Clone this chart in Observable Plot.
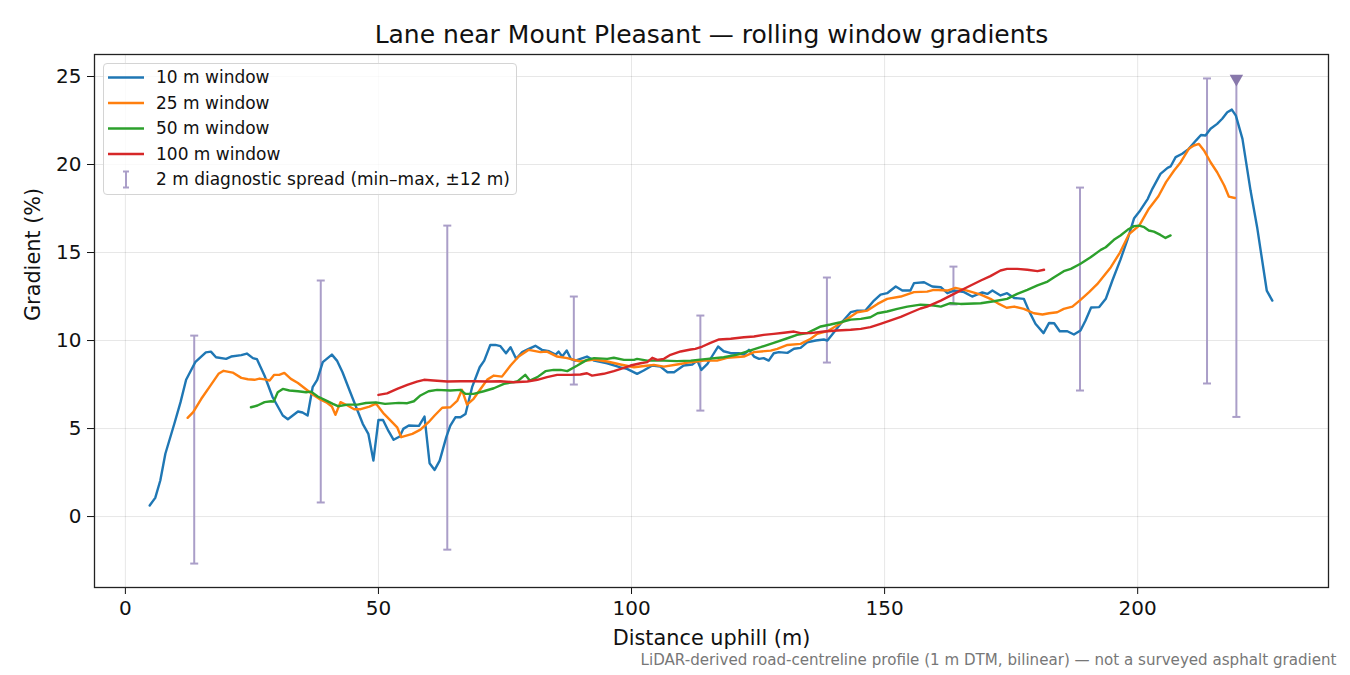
<!DOCTYPE html>
<html>
<head>
<meta charset="utf-8">
<script src="https://cdn.jsdelivr.net/npm/d3@7"></script>
<script src="https://cdn.jsdelivr.net/npm/@observablehq/plot@0.6"></script>
<style>
  html, body { margin: 0; padding: 0; background: #fff; }
  #wrap { position: relative; width: 1350px; height: 675px; font-family: "DejaVu Sans", sans-serif; }
  #legend { position: absolute; left: 103px; top: 63px; width: 414px; height: 132px; box-sizing: border-box;
    border: 1.3px solid #d4d4d4; border-radius: 4px; background: rgba(255,255,255,0.8); }
</style>
</head>
<body>
<div id="wrap"><div id="chart"></div><div id="legend"></div></div>
<script>
// ---- data ----
const titleText = "Lane near Mount Pleasant \u2014 rolling window gradients";
const xLabel = "Distance uphill (m)";
const yLabel = "Gradient (%)";
const footnote = "LiDAR-derived road-centreline profile (1 m DTM, bilinear) \u2014 not a surveyed asphalt gradient";
const xTicks = [0, 50, 100, 150, 200];
const yTicks = [0, 5, 10, 15, 20, 25];

const seriesLabels = ["10 m window", "25 m window", "50 m window", "100 m window"];
const seriesColors = ["#1f77b4", "#ff7f0e", "#2ca02c", "#d62728"];
const spreadLabel = "2 m diagnostic spread (min\u2013max, \u00b112 m)";

const win10 = [[4.8,0.63],[5.9,1.06],[6.9,2.05],[7.9,3.57],[9.7,5.3],[10.9,6.5],[12.0,7.77],[13.8,8.77],[15.9,9.33],[16.9,9.37],[17.9,9.05],[19.9,8.96],[20.9,9.09],[22.9,9.17],[24.0,9.26],[25.2,9.0],[26.0,8.94],[27.5,8.0],[29.1,6.78],[31.1,5.74],[32.1,5.53],[34.1,5.97],[35.0,5.91],[36.0,5.74],[37.0,7.35],[37.9,7.77],[39.0,8.77],[40.8,9.2],[41.8,8.86],[42.9,8.2],[44.3,7.16],[45.6,6.21],[46.9,5.27],[48.0,4.7],[49.0,3.18],[50.0,5.49],[50.9,5.49],[52.0,4.85],[53.0,4.36],[54.2,4.55],[54.9,4.98],[56.0,5.17],[58.0,5.15],[59.1,5.68],[60.1,3.03],[61.1,2.65],[62.1,3.18],[63.4,4.51],[64.2,5.17],[65.2,5.64],[66.2,5.64],[67.2,5.83],[68.5,7.35],[70.0,8.48],[70.9,8.86],[72.1,9.75],[73.1,9.75],[74.1,9.68],[75.2,9.28],[76.1,9.62],[77.2,8.96],[78.4,9.34],[79.7,9.53],[81.0,9.7],[82.3,9.47],[83.7,9.39],[85.0,9.2],[85.6,9.37],[86.3,9.09],[87.2,9.43],[88.0,8.96],[88.9,8.86],[91.2,9.09],[92.6,8.86],[95.2,8.71],[97.8,8.48],[99.1,8.39],[101.1,8.11],[102.4,8.3],[104.1,8.58],[105.7,8.52],[107.1,8.2],[108.4,8.2],[110.3,8.58],[112.0,8.64],[113.0,8.86],[113.8,8.33],[115.0,8.67],[116.0,9.15],[117.1,9.66],[118.2,9.39],[119.6,9.28],[121.2,9.28],[122.2,9.2],[123.2,9.47],[124.2,9.09],[125.2,8.96],[126.1,9.0],[127.1,8.86],[128.1,9.28],[129.1,9.34],[130.8,9.3],[132.1,9.53],[133.4,9.58],[134.7,9.9],[136.4,10.0],[138.0,10.06],[138.7,10.0],[140.0,10.47],[141.3,10.95],[143.3,11.61],[144.6,11.7],[146.2,11.7],[147.9,12.27],[149.2,12.61],[150.5,12.69],[152.2,13.07],[153.5,12.84],[155.1,12.84],[155.8,13.26],[157.8,13.31],[159.4,13.07],[161.1,13.03],[162.4,12.69],[163.7,12.84],[165.7,12.75],[167.3,12.5],[169.3,12.73],[170.3,12.65],[171.3,12.84],[172.9,12.56],[174.2,12.69],[175.6,12.42],[177.5,12.37],[178.5,11.7],[179.8,10.95],[181.4,10.42],[182.5,11.0],[183.5,10.98],[184.6,10.53],[186.1,10.53],[187.4,10.34],[188.7,10.57],[189.7,11.14],[190.8,11.88],[192.4,11.9],[193.7,12.37],[195.0,13.41],[196.6,14.6],[198.0,15.75],[199.3,16.95],[200.5,17.39],[202.0,18.05],[202.9,18.62],[204.5,19.47],[205.9,19.81],[206.5,19.89],[207.5,20.42],[208.8,20.61],[210.1,20.89],[211.5,21.36],[212.5,21.68],[213.4,21.65],[214.4,22.03],[215.7,22.31],[216.7,22.6],[217.7,22.97],[218.6,23.12],[219.4,22.78],[220.7,21.46],[222.3,18.52],[223.6,16.44],[225.5,12.84],[226.6,12.27]];

const win25 = [[12.3,5.61],[13.4,5.93],[15.0,6.69],[16.8,7.44],[18.4,8.11],[19.4,8.28],[21.2,8.18],[22.9,7.88],[24.2,7.8],[25.5,7.77],[26.5,7.84],[27.8,7.78],[28.5,7.73],[29.4,8.05],[30.4,8.05],[31.4,8.16],[32.7,7.82],[34.1,7.59],[36.0,7.16],[37.0,6.93],[38.3,6.69],[39.7,6.49],[40.8,6.25],[41.5,5.78],[42.5,6.5],[43.9,6.31],[45.2,6.1],[46.5,6.1],[48.2,6.25],[49.5,6.42],[51.1,5.83],[52.7,5.36],[53.7,5.07],[54.5,4.51],[56.7,4.7],[58.3,4.94],[59.9,5.36],[61.1,5.74],[62.6,6.18],[64.2,6.21],[65.6,6.59],[66.5,7.2],[67.5,6.36],[68.8,6.69],[70.2,7.26],[71.5,7.78],[72.8,8.01],[74.4,7.95],[76.1,8.58],[77.7,9.09],[79.7,9.47],[82.0,9.34],[83.3,9.37],[85.3,9.09],[87.3,9.0],[89.9,8.81],[92.6,8.92],[95.2,8.81],[97.8,8.64],[100.5,8.48],[102.5,8.55],[104.4,8.62],[106.4,8.52],[109.0,8.64],[111.7,8.77],[114.3,8.86],[116.9,8.86],[118.9,9.02],[122.2,9.09],[124.2,9.34],[127.5,9.43],[128.8,9.53],[130.8,9.75],[133.4,9.81],[135.4,10.1],[136.7,10.38],[138.7,10.53],[140.6,10.85],[142.6,11.23],[144.6,11.61],[146.6,11.7],[148.6,12.08],[150.5,12.37],[153.2,12.5],[155.8,12.75],[158.4,12.78],[159.7,12.88],[162.4,12.84],[164.0,12.99],[166.3,12.84],[169.0,12.61],[170.9,12.37],[172.6,12.08],[174.1,11.86],[175.6,11.93],[177.5,11.8],[179.5,11.55],[181.2,11.48],[182.5,11.55],[184.1,11.61],[185.4,11.8],[187.1,11.93],[188.7,12.31],[190.4,12.75],[192.0,13.2],[194.7,14.17],[196.5,15.0],[198.3,16.05],[200.3,16.53],[202.1,17.44],[204.1,18.2],[205.6,19.0],[207.2,19.66],[208.5,20.13],[210.1,20.89],[211.1,21.08],[212.1,21.17],[213.1,20.8],[214.4,20.13],[215.7,19.56],[217.1,18.81],[218.0,18.18],[219.2,18.1]];

const win50 = [[24.8,6.21],[26.1,6.31],[27.5,6.5],[28.8,6.55],[29.3,6.53],[30.1,7.06],[31.1,7.25],[32.4,7.16],[34.1,7.12],[35.7,7.06],[36.7,7.1],[38.0,6.82],[39.7,6.59],[41.0,6.4],[42.0,6.27],[43.9,6.36],[45.9,6.36],[47.5,6.45],[49.5,6.49],[51.3,6.4],[54.0,6.46],[55.7,6.44],[57.0,6.55],[58.3,6.88],[59.9,7.12],[61.6,7.2],[64.2,7.16],[66.2,7.2],[67.2,6.97],[68.8,6.97],[70.8,7.12],[72.8,7.29],[74.8,7.54],[77.4,7.67],[79.0,8.05],[79.9,7.73],[81.4,7.92],[83.0,8.26],[84.6,8.33],[86.0,8.33],[87.3,8.26],[89.3,8.58],[91.2,8.9],[92.6,9.0],[95.2,8.96],[96.5,9.02],[98.5,8.9],[100.5,8.9],[101.1,8.96],[103.1,8.86],[106.4,8.86],[109.0,8.83],[111.7,8.86],[115.0,8.96],[118.2,9.05],[120.9,9.2],[122.9,9.39],[125.5,9.62],[128.1,9.87],[130.8,10.13],[132.7,10.32],[134.7,10.42],[136.0,10.61],[137.4,10.8],[139.3,10.91],[141.3,11.04],[143.3,11.19],[145.3,11.23],[147.2,11.32],[148.6,11.55],[150.5,11.65],[152.5,11.8],[154.5,11.93],[157.1,12.04],[159.7,11.99],[161.1,11.93],[163.0,12.12],[165.0,12.08],[169.0,12.12],[171.6,12.23],[174.2,12.37],[176.2,12.65],[178.2,12.88],[180.2,13.13],[182.2,13.35],[183.5,13.6],[185.4,13.94],[186.8,14.07],[188.7,14.36],[190.7,14.73],[192.7,15.15],[193.7,15.3],[195.3,15.72],[196.6,15.97],[198.0,16.29],[199.3,16.5],[200.3,16.53],[201.3,16.44],[202.2,16.25],[203.2,16.19],[204.5,16.0],[205.5,15.83],[206.5,15.97]];

const win100 = [[50.0,6.91],[51.7,7.0],[53.7,7.25],[55.7,7.48],[57.6,7.67],[59.0,7.77],[60.9,7.73],[63.6,7.67],[66.2,7.69],[68.8,7.69],[71.5,7.67],[74.1,7.69],[76.7,7.63],[79.4,7.67],[81.4,7.77],[83.3,7.92],[85.3,8.05],[87.9,8.05],[89.9,8.07],[91.2,8.14],[92.2,8.01],[94.5,8.11],[96.5,8.26],[98.5,8.45],[99.8,8.58],[101.8,8.71],[103.1,8.77],[104.1,9.02],[105.1,8.9],[106.4,8.96],[107.7,9.19],[109.7,9.38],[111.7,9.49],[112.6,9.53],[114.0,9.66],[115.6,9.87],[117.3,10.06],[119.6,10.1],[122.2,10.19],[124.2,10.23],[126.1,10.32],[128.1,10.38],[130.1,10.44],[132.1,10.51],[133.4,10.42],[135.4,10.42],[138.0,10.51],[140.6,10.57],[143.3,10.61],[145.3,10.66],[147.2,10.76],[149.2,10.95],[151.2,11.14],[153.2,11.34],[155.1,11.58],[157.1,11.82],[158.4,11.93],[161.1,12.27],[163.7,12.65],[166.3,13.03],[169.0,13.41],[170.9,13.66],[172.9,13.98],[174.2,14.07],[176.2,14.07],[178.2,14.02],[180.2,13.94],[181.5,14.02]];

// 2 m diagnostic spread (min–max); last one runs off the top of the axis (marked with a triangle)
const spreadX   = [13.6, 38.6, 63.6, 88.6, 113.6, 138.6, 163.6, 188.6, 213.7, 219.5];
const spreadMin = [-2.67, 0.8, -1.88, 7.5, 6.02, 8.75, 12.05, 7.16, 7.56, 5.66];
const spreadMax = [10.28, 13.41, 16.53, 12.5, 11.42, 13.58, 14.2, 18.69, 24.89, 24.88];
const spreadClipped = [false, false, false, false, false, false, false, false, false, true];

// ---- build ----
const series = [win10, win25, win50, win100];
const spreads = spreadX.map((x, i) => ({x, lo: spreadMin[i], hi: spreadMax[i], clipped: spreadClipped[i]}));
const spreadColor = "#aa9ec8";
const markerColor = "#8878ab";

const capSymbol = { draw(ctx, size) { const r = Math.sqrt(size / Math.PI); ctx.moveTo(-r, 0); ctx.lineTo(r, 0); } };
const triDown = { draw(ctx, size) { const y = Math.sqrt(size / (Math.sqrt(3) * 3)); ctx.moveTo(0, 2 * y); ctx.lineTo(-Math.sqrt(3) * y, -y); ctx.lineTo(Math.sqrt(3) * y, -y); ctx.closePath(); } };

const marks = [
  Plot.frame({stroke: "#222", strokeWidth: 1.3}),
  Plot.ruleX(spreads, {x: "x", y1: "lo", y2: "hi", stroke: spreadColor, strokeWidth: 2}),
  Plot.dot(spreads, {x: "x", y: "lo", symbol: capSymbol, r: 4, fill: "none", stroke: spreadColor, strokeWidth: 2}),
  Plot.dot(spreads.filter(d => !d.clipped), {x: "x", y: "hi", symbol: capSymbol, r: 4, fill: "none", stroke: spreadColor, strokeWidth: 2}),
  ...series.map((s, i) => Plot.line(s, {x: d => d[0], y: d => d[1], stroke: seriesColors[i], strokeWidth: 2.4, strokeLinejoin: "round"})),
  Plot.dot(spreads.filter(d => d.clipped), {x: "x", y: "hi", symbol: triDown, r: 5, fill: markerColor, stroke: "none"}),
  Plot.text([titleText], {frameAnchor: "top", lineAnchor: "middle", dy: -20, fontSize: 25, fill: "#111"}),
  Plot.text([xLabel], {frameAnchor: "bottom", lineAnchor: "middle", dy: 51, fontSize: 20.8, fill: "#111"}),
  Plot.text([yLabel], {frameAnchor: "left", lineAnchor: "middle", dx: -61, rotate: -90, fontSize: 20.8, fill: "#111"}),
  Plot.text([footnote], {frameAnchor: "bottom-right", lineAnchor: "middle", textAnchor: "end", dx: 8, dy: 73, fontSize: 15.1, fill: "#777"})
];

const chart = Plot.plot({
  width: 1350,
  height: 675,
  marginLeft: 94,
  marginRight: 22,
  marginTop: 54,
  marginBottom: 88,
  style: {fontFamily: "DejaVu Sans, sans-serif", fontSize: "20px", color: "#111", background: "white", overflow: "visible"},
  x: {domain: [-6.1, 237.7], ticks: xTicks, tickSize: 7, tickPadding: 6, label: null, grid: true},
  y: {domain: [-4.03, 26.25], ticks: yTicks, tickSize: 7, tickPadding: 6, label: null, grid: true},
  marks
});
document.getElementById("chart").appendChild(chart);

// legend
const lg = d3.select("#legend").append("svg").attr("width", 414).attr("height", 132)
  .style("position", "absolute").style("left", "-1px").style("top", "-1px")
  .style("font-family", "DejaVu Sans, sans-serif").style("font-size", "17px");
const rowY = i => 14.5 + i * 25.5;
seriesLabels.forEach((lab, i) => {
  lg.append("line").attr("x1", 5).attr("x2", 41).attr("y1", rowY(i)).attr("y2", rowY(i))
    .attr("stroke", seriesColors[i]).attr("stroke-width", 2.4);
  lg.append("text").attr("x", 53).attr("y", rowY(i)).attr("dy", "0.35em").attr("fill", "#111").text(lab);
});
const ry = rowY(4);
lg.append("line").attr("x1", 23).attr("x2", 23).attr("y1", ry - 8).attr("y2", ry + 8).attr("stroke", spreadColor).attr("stroke-width", 2);
lg.append("line").attr("x1", 20).attr("x2", 26).attr("y1", ry - 8).attr("y2", ry - 8).attr("stroke", spreadColor).attr("stroke-width", 2);
lg.append("line").attr("x1", 20).attr("x2", 26).attr("y1", ry + 8).attr("y2", ry + 8).attr("stroke", spreadColor).attr("stroke-width", 2);
lg.append("text").attr("x", 53).attr("y", ry).attr("dy", "0.35em").attr("fill", "#111").text(spreadLabel);
</script>
</body>
</html>
